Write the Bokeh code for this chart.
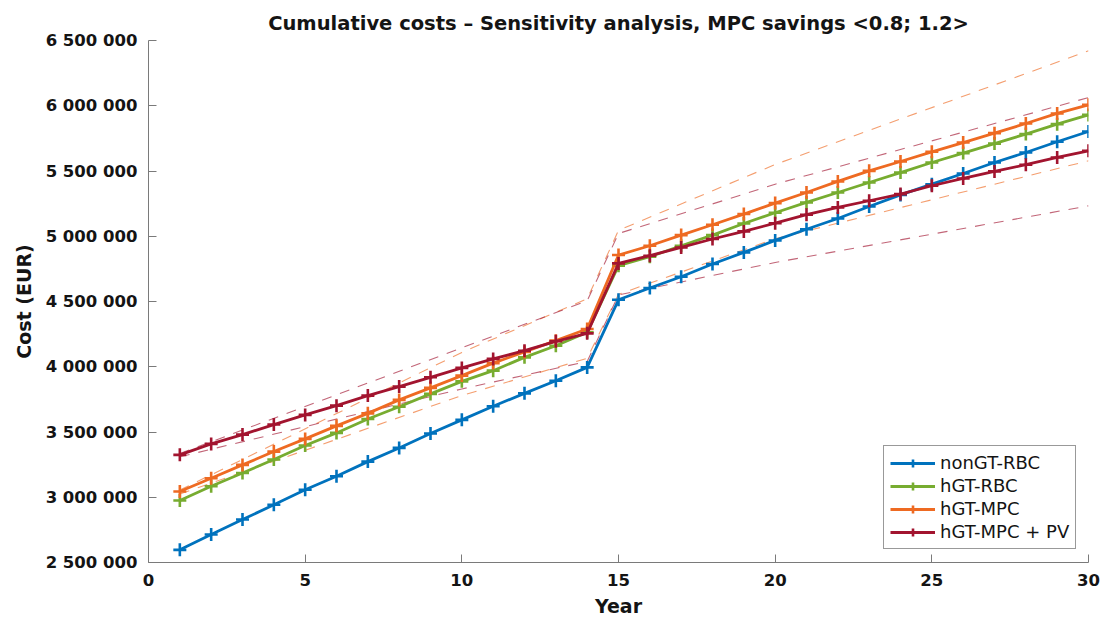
from bokeh.plotting import figure
from bokeh.models import Range1d, SingleIntervalTicker, CustomJSTickFormatter, Legend, LegendItem
from bokeh.embed import file_html
from bokeh.resources import INLINE

# Cumulative costs per year (EUR)
years = list(range(1, 31))

non_gt_rbc = [2597e3, 2714e3, 2829e3, 2942e3, 3057e3, 3161e3, 3273e3, 3378e3, 3488e3, 3593e3,
              3697e3, 3796e3, 3893e3, 3995e3, 4513e3, 4603e3, 4690e3, 4787e3, 4876e3, 4968e3,
              5054e3, 5136e3, 5228e3, 5317e3, 5399e3, 5481e3, 5565e3, 5642e3, 5724e3, 5803e3]

hgt_rbc = [2975e3, 3084e3, 3186e3, 3289e3, 3396e3, 3493e3, 3600e3, 3694e3, 3792e3, 3888e3,
           3970e3, 4072e3, 4161e3, 4264e3, 4774e3, 4843e3, 4927e3, 5009e3, 5098e3, 5180e3,
           5259e3, 5335e3, 5412e3, 5488e3, 5565e3, 5637e3, 5710e3, 5783e3, 5859e3, 5930e3]

hgt_mpc = [3044e3, 3146e3, 3248e3, 3350e3, 3447e3, 3547e3, 3643e3, 3746e3, 3838e3, 3932e3,
           4028e3, 4113e3, 4200e3, 4289e3, 4856e3, 4927e3, 5009e3, 5088e3, 5170e3, 5254e3,
           5335e3, 5420e3, 5501e3, 5573e3, 5647e3, 5718e3, 5790e3, 5864e3, 5941e3, 6007e3]

hgt_mpc_pv = [3325e3, 3409e3, 3480e3, 3557e3, 3631e3, 3702e3, 3779e3, 3848e3, 3919e3, 3991e3,
              4060e3, 4123e3, 4195e3, 4256e3, 4792e3, 4851e3, 4914e3, 4979e3, 5037e3, 5100e3,
              5165e3, 5221e3, 5272e3, 5323e3, 5387e3, 5443e3, 5497e3, 5548e3, 5604e3, 5655e3]

# Sensitivity bounds (MPC savings factor 0.8 / 1.2)
bound_years = [1, 10, 14, 15, 20, 30]
mpc_upper = [3055e3, 4110e3, 4520e3, 5045e3, 5550e3, 6421e3]
mpc_lower = [3025e3, 3779e3, 4065e3, 4555e3, 4981e3, 5578e3]
mpc_pv_upper = [3335e3, 4145e3, 4505e3, 5021e3, 5399e3, 6063e3]
mpc_pv_lower = [3310e3, 3830e3, 4040e3, 4550e3, 4799e3, 5233e3]

series_names = ["nonGT-RBC", "hGT-RBC", "hGT-MPC", "hGT-MPC + PV"]
series_values = [non_gt_rbc, hgt_rbc, hgt_mpc, hgt_mpc_pv]
colors = ["#0072BD", "#77AC30", "#EE6A22", "#A2142F"]

FONT = "DejaVu Sans"
TEXT = "#141414"

p = figure(width=1101, height=621, output_backend="svg", toolbar_location=None,
           x_range=Range1d(0, 30), y_range=Range1d(2.5e6, 6.5e6),
           min_border_left=148, min_border_right=13, min_border_top=40, min_border_bottom=59)

p.title.text = "Cumulative costs \u2013 Sensitivity analysis, MPC savings <0.8; 1.2>"
p.title.align = "center"
p.title.text_font = FONT
p.title.text_font_size = "19.5px"
p.title.text_font_style = "bold"
p.title.text_color = TEXT
p.title.offset = 0
p.title.standoff = 12

p.outline_line_color = None
p.xgrid.visible = False
p.ygrid.visible = False
p.background_fill_color = "white"
p.border_fill_color = "white"

p.xaxis.ticker = SingleIntervalTicker(interval=5, num_minor_ticks=0)
p.yaxis.ticker = SingleIntervalTicker(interval=500000, num_minor_ticks=0)
p.yaxis.formatter = CustomJSTickFormatter(
    code=r"return Math.round(tick).toString().replace(/\B(?=(\d{3})+(?!\d))/g, ' ');")

for ax in (p.xaxis[0], p.yaxis[0]):
    ax.axis_line_color = "#7a7a7a"
    ax.axis_line_width = 1
    ax.major_tick_line_color = "#7a7a7a"
    ax.major_tick_in = 8
    ax.major_tick_out = 0
    ax.minor_tick_line_color = None
    ax.major_label_text_font = FONT
    ax.major_label_text_font_size = "16.5px"
    ax.major_label_text_font_style = "bold"
    ax.major_label_text_color = TEXT
    ax.axis_label_text_font = FONT
    ax.axis_label_text_font_size = "19px"
    ax.axis_label_text_font_style = "bold"
    ax.axis_label_text_color = TEXT

p.xaxis.axis_label = "Year"
p.yaxis.axis_label = "Cost (EUR)"
p.xaxis.major_label_standoff = 11
p.yaxis.major_label_standoff = 11
p.xaxis.axis_label_standoff = 6
p.yaxis.axis_label_standoff = 8

# dashed sensitivity ranges
for vals, col in ((mpc_upper, colors[2]), (mpc_lower, colors[2]),
                  (mpc_pv_upper, colors[3]), (mpc_pv_lower, colors[3])):
    p.line(bound_years, vals, line_color=col, line_width=1.1, line_alpha=0.65, line_dash="10 9")

items = []
for name, vals, col in zip(series_names, series_values, colors):
    ln = p.line(years, vals, line_color=col, line_width=2.8)
    mk = p.scatter(years, vals, marker="cross", size=13, line_color=col, line_width=2.6)
    items.append(LegendItem(label=name, renderers=[ln, mk]))

legend = Legend(items=items, location=(735, 13), margin=0,
                glyph_width=45, glyph_height=20, label_height=20, label_standoff=5,
                padding=6, spacing=2,
                label_text_font=FONT, label_text_font_size="18px", label_text_color=TEXT,
                border_line_color="#333333", border_line_width=1,
                background_fill_color="white", background_fill_alpha=1)
p.add_layout(legend)

open("out.html", "w").write(file_html(p, INLINE))
